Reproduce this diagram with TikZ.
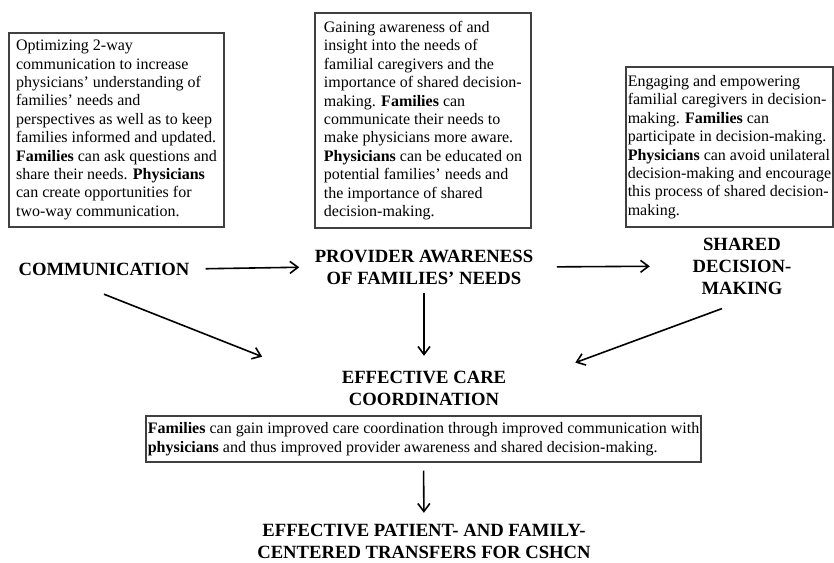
\documentclass[tikz,border=0pt]{standalone}
\usepackage{fontspec}
\setmainfont{Liberation Serif}
\usetikzlibrary{arrows.meta}
\tikzset{>={Straight Barb[length=6pt, width=9pt]}}
\tikzset{
  head/.style={font=\fontsize{14}{16.5}\selectfont\bfseries, align=center, inner sep=0pt},
  note/.style={draw=black!75, line width=0.8pt, font=\fontsize{12}{13.8}\selectfont, align=left, inner sep=0pt},
  link/.style={->, line width=1.2pt}
}

\begin{document}
\begin{tikzpicture}[x=0.75pt, y=-0.75pt]
      \useasboundingbox (0, 0) rectangle (834, 563);

      \node (commnote) at (116.5, 130) [note, minimum width=161.25pt, minimum height=145.5pt]
        {Optimizing 2-way\\ communication to increase\\ physicians’ understanding of\\
         families’ needs and\\ perspectives as well as to keep\\ families informed and updated.\\
         \textbf{Families} can ask questions and\\ share their needs. \textbf{Physicians}\\
         can create opportunities for\\ two-way communication.};
      \node (provnote) at (423, 120.5) [note, minimum width=162pt, minimum height=161.25pt]
        {Gaining awareness of and\\ insight into the needs of\\ familial caregivers and the\\
         importance of shared decision-\\ making. \textbf{Families} can\\ communicate their needs to\\
         make physicians more aware.\\ \textbf{Physicians} can be educated on\\
         potential families’ needs and\\ the importance of shared\\ decision-making.};
      \node (sharednote) at (729.5, 147) [note, minimum width=155.25pt, minimum height=120pt]
        {Engaging and empowering\\ familial caregivers in decision-\\ making. \textbf{Families} can\\
         participate in decision-making.\\ \textbf{Physicians} can avoid unilateral\\
         decision-making and encourage\\ this process of shared decision-\\ making.};

      \node (comm) at (104, 269) [head] {COMMUNICATION};
      \node (prov) at (424, 267) [head] {PROVIDER AWARENESS\\ OF FAMILIES’ NEEDS};
      \node (shared) at (742, 266) [head] {SHARED\\ DECISION-\\ MAKING};
      \node (coord) at (424, 388) [head] {EFFECTIVE CARE\\ COORDINATION};

      \node (coordnote) at (423.5, 439) [note, minimum width=416.25pt, minimum height=34.5pt]
        {\textbf{Families} can gain improved care coordination through improved communication with\\
         \textbf{physicians} and thus improved provider awareness and shared decision-making.};

      \node (transfer) at (424, 541) [head] {EFFECTIVE PATIENT- AND FAMILY-\\ CENTERED TRANSFERS FOR CSHCN};

      \draw [link, shorten <=12pt, shorten >=11.5pt] (comm.east) -- (prov.west);
      \draw [link, shorten <=17.5pt, shorten >=32pt] (prov.east) -- (shared.west);
      \draw [link, shorten <=6.5pt, shorten >=11pt] (prov.south) -- (coord.north);
      \draw [link, shorten >=64pt] ([yshift=-14pt]comm.south) -- (coord.west);
      \draw [link, shorten <=16pt, shorten >=55pt] ([yshift=-5pt]shared.south) -- (coord.east);
      \draw [link, shorten <=6pt, shorten >=8pt] (coordnote.south) -- (transfer.north);
    \end{tikzpicture}
\end{document}
